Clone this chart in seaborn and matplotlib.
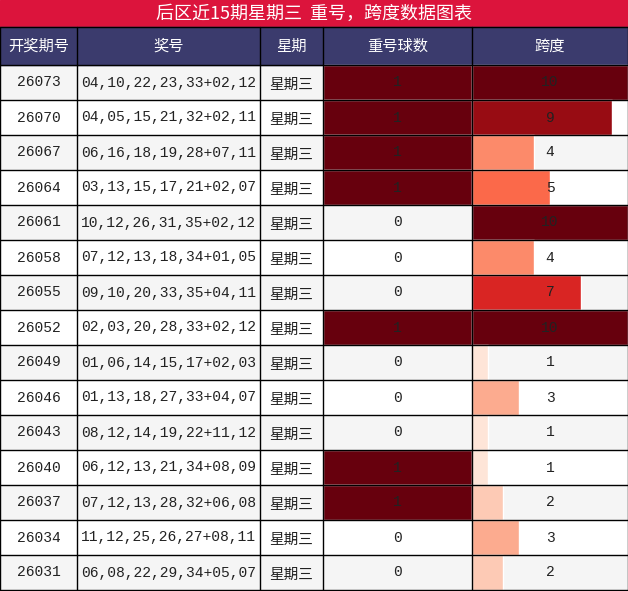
import matplotlib
matplotlib.use('Agg')
import matplotlib.pyplot as plt
import seaborn as sns

issues = ['26073', '26070', '26067', '26064', '26061', '26058', '26055', '26052',
          '26049', '26046', '26043', '26040', '26037', '26034', '26031']
numbers = ['04,10,22,23,33+02,12', '04,05,15,21,32+02,11', '06,16,18,19,28+07,11',
           '03,13,15,17,21+02,07', '10,12,26,31,35+02,12', '07,12,13,18,34+01,05',
           '09,10,20,33,35+04,11', '02,03,20,28,33+02,12', '01,06,14,15,17+02,03',
           '01,13,18,27,33+04,07', '08,12,14,19,22+11,12', '06,12,13,21,34+08,09',
           '07,12,13,28,32+06,08', '11,12,25,26,27+08,11', '06,08,22,29,34+05,07']
weekday = ['星期三'] * 15
repeat = [1, 1, 1, 1, 0, 0, 0, 1, 0, 0, 0, 1, 1, 0, 0]
span = [10, 9, 4, 5, 10, 4, 7, 10, 1, 3, 1, 1, 2, 3, 2]
headers = ['开奖期号', '奖号', '星期', '重号球数', '跨度']
title = '后区近15期星期三  重号，跨度数据图表'

sns.set_theme(style='white')
plt.rcParams['font.family'] = ['Noto Sans CJK SC', 'DejaVu Sans']

W, H = 628, 591
cols = [0, 77, 260, 323, 472, 628]
top, row_h = 65, 35

fig = plt.figure(figsize=(W / 100, H / 100), dpi=100)
ax = fig.add_axes([0, 0, 1, 1])
ax.set_xlim(0, W)
ax.set_ylim(H, 0)
ax.axis('off')

# title and header
ax.add_patch(plt.Rectangle((0, 0), W, 27, color='#dc143c', zorder=1))
ax.text(W / 2, 14, title, color='white', fontsize=13, ha='center', va='center')
ax.add_patch(plt.Rectangle((0, 27), W, top - 27, color='#3b3b6d', zorder=1))
for i, h in enumerate(headers):
    ax.text((cols[i] + cols[i + 1]) / 2, 46, h, color='white', fontsize=11, ha='center', va='center')

mono = ['Liberation Mono', 'DejaVu Sans Mono']
reds = plt.cm.Reds
for r in range(len(issues)):
    y = top + r * row_h
    bg = '#f5f5f5' if r % 2 == 0 else 'white'
    ax.add_patch(plt.Rectangle((0, y), W, row_h, color=bg, zorder=0))
    if repeat[r] > 0:
        ax.barh(y + row_h / 2, cols[4] - cols[3], height=row_h, left=cols[3],
                color=reds(repeat[r] / 1.0), zorder=1)
    w = (cols[5] - cols[4]) * span[r] / 10
    ax.barh(y + row_h / 2, w, height=row_h, left=cols[4],
            color=reds(span[r] / 10), zorder=1)
    cy = y + row_h / 2
    ax.text((cols[0] + cols[1]) / 2, cy, issues[r], family=mono, fontsize=10.5, ha='center', va='center', color='#222222', zorder=3)
    ax.text((cols[1] + cols[2]) / 2, cy, numbers[r], family=mono, fontsize=10.5, ha='center', va='center', color='#222222', zorder=3)
    ax.text((cols[2] + cols[3]) / 2, cy + 2, weekday[r], fontsize=10.5, ha='center', va='center', color='#222222', zorder=3)
    ax.text((cols[3] + cols[4]) / 2, cy, str(repeat[r]), family=mono, fontsize=10.5, ha='center', va='center', color='#222222', zorder=3)
    ax.text((cols[4] + cols[5]) / 2, cy, str(span[r]), family=mono, fontsize=10.5, ha='center', va='center', color='#222222', zorder=3)

# grid lines
for x in cols:
    ax.plot([x, x], [27, top + row_h * len(issues)], color='black', lw=1, zorder=4)
for r in range(len(issues) + 2):
    y = 27 if r == 0 else top + (r - 1) * row_h
    ax.plot([0, W], [y, y], color='black', lw=1, zorder=4)

fig.savefig('out.png', dpi=100)
